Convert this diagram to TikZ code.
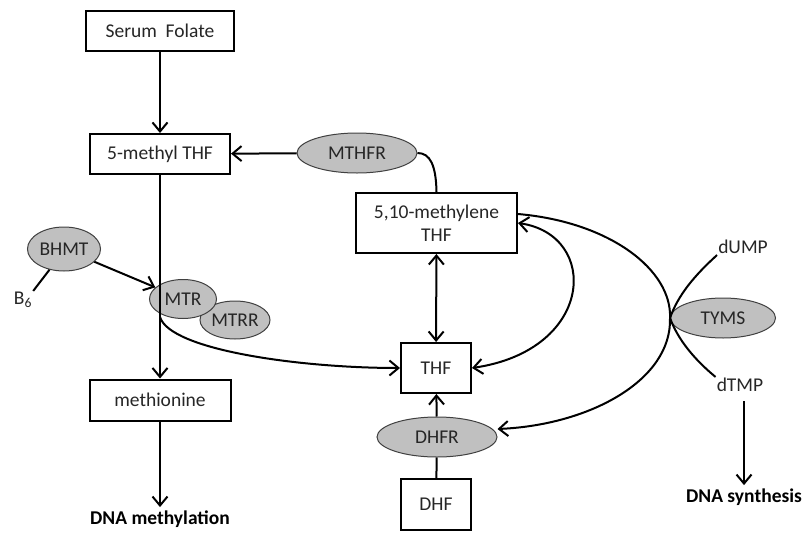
\documentclass[tikz,border=0pt]{standalone}
\usepackage{fontspec}
\setmainfont{Carlito}
\usetikzlibrary{arrows.meta, shapes.geometric}
\definecolor{cEnzyme}    {HTML}{C0C0C0}
\definecolor{cEnzymeLine}{HTML}{404040}
\definecolor{cText}      {HTML}{262626}

\begin{document}
\begin{tikzpicture}[x=1pt, y=-1pt,
    font=\fontsize{19.5}{23}\selectfont, text=cText,
    >={Straight Barb[length=9pt, width=15pt]},
    pool/.style={draw=black, line width=2pt, align=center, inner sep=0pt},
    enzyme/.style={ellipse, draw=cEnzymeLine, line width=1pt, fill=cEnzyme, inner sep=0pt},
    bond/.style={line width=2pt},
    outcome/.style={font=\fontsize{19.5}{23}\selectfont\bfseries, text=black}]
  \useasboundingbox (0,0) rectangle (806,533);

  % folate pools
  \node[pool, minimum width=148pt, minimum height=40pt] (serum) at (160,31) {Serum\ \ Folate};
  \node[pool, minimum width=140pt, minimum height=40pt] (methyl) at (160,154) {5-methyl THF};
  \node[pool, minimum width=141pt, minimum height=41pt] (methionine) at (160,400) {methionine};
  \node[pool, minimum width=161pt, minimum height=60pt] (mthf) at (436.5,223) {5,10-methylene\\THF};
  \node[pool, minimum width=70pt, minimum height=50pt] (thf) at (436,368) {THF};
  \node[pool, minimum width=70pt, minimum height=51pt] (dhf) at (436,504.5) {DHF};

  % enzymes
  \node[enzyme, minimum width=73pt, minimum height=44pt] (BHMT) at (64,249) {BHMT};
  \node[enzyme, minimum width=70pt, minimum height=38pt] (MTRR) at (235,320) {MTRR};
  \node[enzyme, minimum width=67pt, minimum height=39pt] (MTR) at (183,299) {MTR};
  \node[enzyme, minimum width=120pt, minimum height=40pt] (MTHFR) at (357,153) {MTHFR};
  \node[enzyme, minimum width=105pt, minimum height=40pt] (TYMS) at (723,318) {TYMS};
  \node[enzyme, minimum width=120pt, minimum height=40pt] (DHFR) at (437,437) {DHFR};

  % small labels
  \node[inner sep=1pt] (b6) at (23,300) {B\textsubscript{6}};
  \node[inner sep=1pt] (dump) at (743,247) {dUMP};
  \node[inner sep=1pt] (dtmp) at (740,385) {dTMP};
  \node[outcome] (dnameth) at (160,519) {DNA methylation};
  \node[outcome] (dnasyn) at (744,497) {DNA synthesis};
  \coordinate (mtrfoot) at (160,317);

  % methylation branch
  \draw[bond, ->] (serum) -- (methyl);
  \draw[bond, ->] (methyl) -- (methionine);
  \draw[bond, ->] (methionine) -- (dnameth);
  \draw[bond, ->] (BHMT) -- (MTR);
  \draw[bond] (BHMT.235) -- (b6.north east);
  \draw[bond, ->] (mtrfoot) .. controls (170,350) and (300,368) .. (thf.west);

  % folate cycle
  \draw[bond, ->] (MTHFR) -- (methyl);
  \draw[bond] (MTHFR.east) .. controls (430,153) and (436,165) .. (mthf.north);
  \draw[bond, <->] (mthf) -- (thf);
  \draw[bond, <->] (mthf.east) .. controls (600,235) and (595,350) .. (thf.east);
  \draw[bond, ->] ([yshift=9pt]mthf.east) .. controls (610,222) and (672,270) .. (TYMS.west)
    .. controls (672,380) and (590,425) .. ([yshift=8pt]DHFR.east);
  \draw[bond, ->] (DHFR) -- (thf);
  \draw[bond] (dhf) -- (DHFR);

  % thymidylate synthesis
  \draw[bond] (dump.south west) .. controls (695,275) and (678,295) .. (TYMS.west);
  \draw[bond] (TYMS.west) .. controls (678,340) and (695,360) .. (dtmp.north west);
  \draw[bond, ->, shorten <=8pt] (dtmp.south -| dnasyn.north) -- (dnasyn.north);
\end{tikzpicture}
\end{document}
